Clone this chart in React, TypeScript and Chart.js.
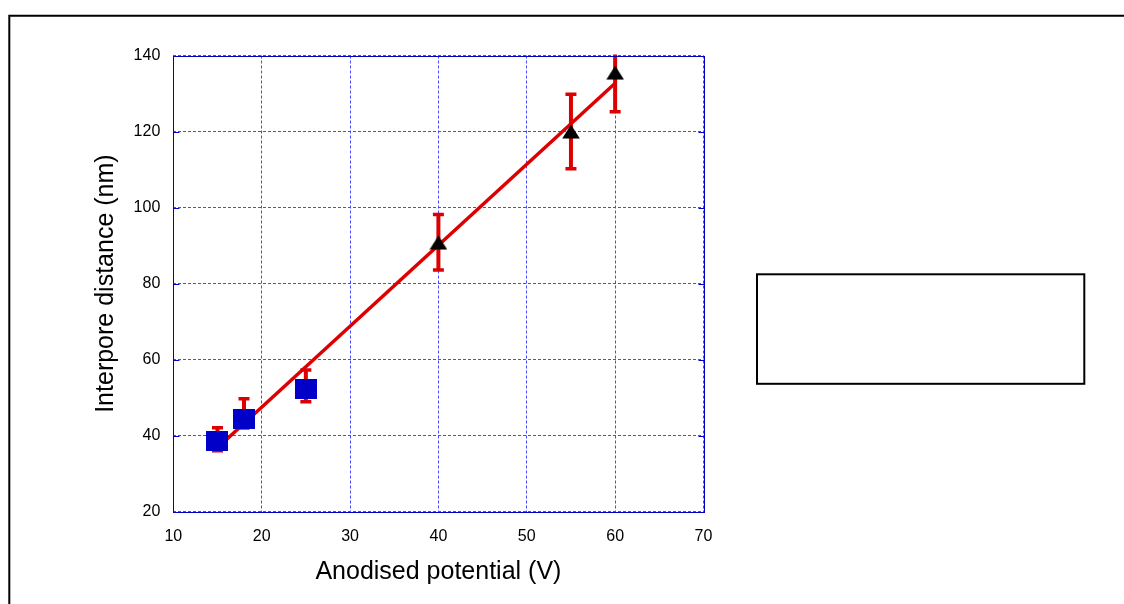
import React, { useEffect, useRef } from 'react';
import { Chart, registerables } from 'chart.js';

Chart.register(...registerables);

// ---- data ----
const squareX = [15, 18, 25];
const squareY = [38.6, 44.3, 52.2];
const squareErrLow = [36.0, 42.0, 48.9];
const squareErrHigh = [42.1, 49.7, 57.3];

const triangleX = [40, 55, 60];
const triangleY = [90.8, 120.0, 135.5];
const triangleErrLow = [83.6, 110.2, 125.2];
const triangleErrHigh = [98.2, 129.8, 145.8];

const fitX = [15, 60];
const fitY = [36.8, 132.7];

const xAxisTitle = 'Anodised potential (V)';
const yAxisTitle = 'Interpore distance (nm)';
const xMin = 10, xMax = 70, xStep = 10;
const yMin = 20, yMax = 140, yStep = 20;

const FONT = "'Liberation Sans', Arial, Helvetica, sans-serif";
const RED = '#dd0000';
const BLUE = '#0000c8';
const GRID = '#4848ff';

function makeSquare(): HTMLCanvasElement {
  const c = document.createElement('canvas');
  c.width = 22; c.height = 20;
  const g = c.getContext('2d')!;
  g.fillStyle = BLUE;
  g.fillRect(0, 0, 22, 20);
  return c;
}

function makeTriangle(): HTMLCanvasElement {
  const c = document.createElement('canvas');
  c.width = 18; c.height = 15;
  const g = c.getContext('2d')!;
  g.fillStyle = '#000000';
  g.beginPath();
  g.moveTo(9, 0.5);
  g.lineTo(17.8, 14.5);
  g.lineTo(0.2, 14.5);
  g.closePath();
  g.fill();
  return c;
}

const errorBarPlugin = {
  id: 'errorBars',
  beforeDatasetsDraw(chart: any) {
    const { ctx, chartArea, scales } = chart;
    const xs = scales.x, ys = scales.y;
    ctx.save();
    ctx.beginPath();
    ctx.rect(chartArea.left, chartArea.top - 1, chartArea.right - chartArea.left, chartArea.bottom - chartArea.top + 1);
    ctx.clip();
    ctx.strokeStyle = RED;
    const groups = [
      [squareX, squareErrLow, squareErrHigh],
      [triangleX, triangleErrLow, triangleErrHigh],
    ];
    for (const [xv, lo, hi] of groups) {
      for (let i = 0; i < xv.length; i++) {
        const px = xs.getPixelForValue(xv[i]);
        const pl = ys.getPixelForValue(lo[i]);
        const ph = ys.getPixelForValue(hi[i]);
        ctx.lineWidth = 4;
        ctx.beginPath();
        ctx.moveTo(px, pl);
        ctx.lineTo(px, ph);
        ctx.stroke();
        ctx.lineWidth = 3.5;
        ctx.beginPath();
        ctx.moveTo(px - 5.5, pl);
        ctx.lineTo(px + 5.5, pl);
        ctx.moveTo(px - 5.5, ph);
        ctx.lineTo(px + 5.5, ph);
        ctx.stroke();
      }
    }
    ctx.restore();
  },
};

const framePlugin = {
  id: 'frames',
  afterDraw(chart: any) {
    const { ctx, chartArea, scales } = chart;
    ctx.save();
    // plot border
    ctx.strokeStyle = BLUE;
    ctx.lineWidth = 1;
    const l = Math.round(chartArea.left) + 0.5;
    const r = Math.round(chartArea.right) + 0.5;
    const t = Math.round(chartArea.top) + 0.5;
    const b = Math.round(chartArea.bottom) + 0.5;
    ctx.strokeRect(l, t, r - l, b - t);
    // small inward ticks on y
    ctx.beginPath();
    for (let v = yMin; v <= yMax; v += yStep) {
      const py = Math.round(scales.y.getPixelForValue(v)) + 0.5;
      ctx.moveTo(l, py); ctx.lineTo(l + 6, py);
      ctx.moveTo(r, py); ctx.lineTo(r - 6, py);
    }
    ctx.stroke();
    // outer frame (top & left)
    ctx.strokeStyle = '#000000';
    ctx.lineWidth = 2;
    ctx.beginPath();
    ctx.moveTo(9.3, 610);
    ctx.lineTo(9.3, 15.8);
    ctx.lineTo(1130, 15.8);
    ctx.stroke();
    // empty legend box
    ctx.fillStyle = '#ffffff';
    ctx.fillRect(757, 274.3, 327.3, 109.5);
    ctx.strokeRect(757, 274.3, 327.3, 109.5);
    ctx.restore();
  },
};

export default function App() {
  const ref = useRef<HTMLCanvasElement | null>(null);

  useEffect(() => {
    const prevMargin = document.body.style.margin;
    document.body.style.margin = '0';
    const canvas = ref.current!;
    const square = makeSquare();
    const triangle = makeTriangle();

    const chart = new Chart(canvas, {
      type: 'scatter',
      data: {
        datasets: [
          {
            label: 'squares',
            data: squareX.map((x, i) => ({ x, y: squareY[i] })),
            pointStyle: square as any,
            pointRadius: 11,
            showLine: false,
            order: 0,
          },
          {
            label: 'triangles',
            data: triangleX.map((x, i) => ({ x, y: triangleY[i] })),
            pointStyle: triangle as any,
            pointRadius: 9,
            showLine: false,
            order: 1,
          },
          {
            label: 'fit',
            data: fitX.map((x, i) => ({ x, y: fitY[i] })),
            showLine: true,
            borderColor: RED,
            borderWidth: 3.5,
            pointRadius: 0,
            fill: false,
            order: 2,
          } as any,
        ],
      },
      plugins: [errorBarPlugin, framePlugin],
      options: {
        responsive: false,
        animation: false,
        events: [],
        layout: { padding: { left: 0, top: 55.5, right: 420.5, bottom: 0 } },
        plugins: {
          legend: { display: false },
          tooltip: { enabled: false },
        },
        scales: {
          x: {
            type: 'linear',
            min: xMin,
            max: xMax,
            afterFit: (s: any) => { s.height = 92.3; },
            ticks: {
              stepSize: xStep,
              color: '#000000',
              font: { family: FONT, size: 16 },
              padding: 15,
              maxRotation: 0,
            },
            grid: {
              color: GRID,
              lineWidth: 1,
              drawTicks: false,
            },
            border: { display: false, dash: [3, 2] },
            title: {
              display: true,
              text: xAxisTitle,
              color: '#000000',
              font: { family: FONT, size: 25 },
              padding: { top: 0, bottom: 17 },
            },
          },
          y: {
            type: 'linear',
            min: yMin,
            max: yMax,
            afterFit: (s: any) => { s.width = 173.3; },
            ticks: {
              stepSize: yStep,
              color: '#000000',
              font: { family: FONT, size: 16 },
              padding: 13,
            },
            grid: {
              color: GRID,
              lineWidth: 1,
              drawTicks: false,
            },
            border: { display: false, dash: [3, 2] },
            title: {
              display: true,
              text: yAxisTitle,
              color: '#000000',
              font: { family: FONT, size: 25 },
              padding: { top: 91, bottom: 0 },
            },
          },
        },
      } as any,
    });

    return () => {
      chart.destroy();
      document.body.style.margin = prevMargin;
    };
  }, []);

  return (
    <div style={{ position: 'fixed', left: 0, top: 0, width: 1124, height: 604, background: '#ffffff' }}>
      <canvas ref={ref} width={1124} height={604} style={{ display: 'block', width: 1124, height: 604 }} />
    </div>
  );
}
